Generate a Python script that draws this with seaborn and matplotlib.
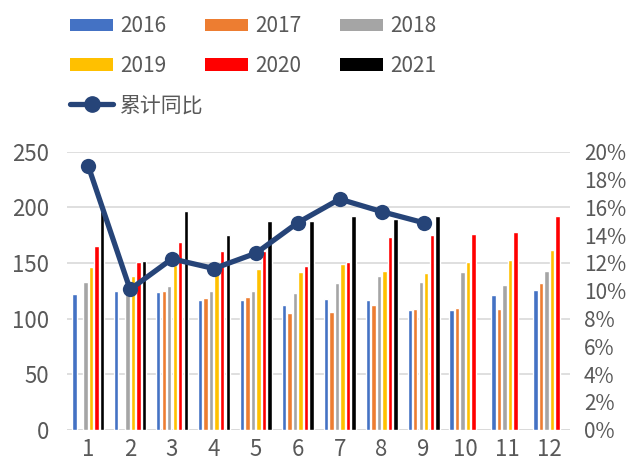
import numpy as np
import pandas as pd
import matplotlib
matplotlib.use("Agg")
import matplotlib.pyplot as plt
import seaborn as sns
from matplotlib.lines import Line2D
from matplotlib.patches import Patch
from matplotlib.ticker import FuncFormatter

# ---- data ----
months = [1, 2, 3, 4, 5, 6, 7, 8, 9, 10, 11, 12]
years = ["2016", "2017", "2018", "2019", "2020", "2021"]
v2016 = [122, 125, 123.5, 116.5, 116.5, 112.3, 118, 117, 107.8, 107.8, 121.4, 125.9]
v2017 = [np.nan, np.nan, 125, 118.4, 119, 105, 106, 112.3, 109, 109.6, 108.4, 131.6]
v2018 = [132.5, 130, 129.5, 124.4, 124.4, 122.6, 132, 138.5, 132.8, 141.5, 130.4, 142.8]
v2019 = [146, 138, 148, 141, 145, 141.5, 149, 142.5, 141, 151, 152.7, 162]
v2020 = [165.6, 151, 169, 160.5, 160.5, 147.6, 151, 173, 175.6, 176.2, 178.3, 191.9]
v2021 = [197, 152, 197, 175.3, 188, 188, 192, 190, 192, np.nan, np.nan, np.nan]
cum_yoy = [19.0, 10.1, 12.3, 11.6, 12.7, 14.9, 16.6, 15.7, 14.9]  # %
line_label = "累计同比"

colors = ["#4472C4", "#ED7D31", "#A5A5A5", "#FFC000", "#FF0000", "#000000"]
line_color = "#264478"
text_color = "#595959"
FS = 15

# long format for seaborn
series = [v2016, v2017, v2018, v2019, v2020, v2021]
df = pd.concat([pd.DataFrame({"month": months, "value": vals, "year": yr})
                for yr, vals in zip(years, series)], ignore_index=True)
df_line = pd.DataFrame({"pos": [m - 1 for m in months[:len(cum_yoy)]], "yoy": cum_yoy})

sns.set_theme(style="white")
plt.rcParams["font.family"] = ["Noto Sans CJK SC", "DejaVu Sans"]
plt.rcParams["font.size"] = FS

fig = plt.figure(figsize=(6.28, 4.63), dpi=100)
ax = fig.add_axes([0.107, 0.072, 0.801, 0.6])

sns.barplot(data=df, x="month", y="value", hue="year", hue_order=years,
            palette=colors, width=0.79, gap=0.2, saturation=1,
            dodge=True, ax=ax, legend=False, errorbar=None)

ax.set_ylim(0, 250)
ax.set_yticks(range(0, 251, 50))
ax.set_xlim(-0.5, 11.5)
ax.yaxis.grid(True, color="#D9D9D9", linewidth=1.2)
ax.set_axisbelow(True)
for s in ax.spines.values():
    s.set_visible(False)
ax.axhline(0, color="#D9D9D9", linewidth=1.2, zorder=0)
ax.set_xlabel("")
ax.set_ylabel("")
ax.tick_params(axis="y", length=0, pad=13, labelsize=FS + 1, colors=text_color)
ax.tick_params(axis="x", length=0, pad=6, labelsize=FS + 1, colors=text_color)

ax2 = ax.twinx()
sns.lineplot(data=df_line, x="pos", y="yoy", color=line_color, linewidth=3.8,
             marker="o", markersize=11, markeredgewidth=0, ax=ax2)
ax2.set_ylim(0, 20)
ax2.set_yticks(range(0, 21, 2))
ax2.yaxis.set_major_formatter(FuncFormatter(lambda v, p: f"{int(v)}%"))
ax2.set_xlim(-0.5, 11.5)
ax2.set_ylabel("")
ax2.set_xlabel("")
ax2.grid(False)
for s in ax2.spines.values():
    s.set_visible(False)
ax2.tick_params(axis="y", length=0, pad=10, labelsize=FS, colors=text_color)

# legend: year patches in a 3x2 grid, the line entry on its own row below
patches = [Patch(facecolor=c, edgecolor="none", label=y) for c, y in zip(colors, years)]
order = [0, 3, 1, 4, 2, 5]  # column-major fill -> row-major look
leg1 = fig.legend(handles=[patches[i] for i in order], loc="upper left",
                  bbox_to_anchor=(0.105, 0.976), ncol=3, frameon=False, fontsize=FS,
                  labelcolor=text_color, handlelength=2.07, handleheight=0.55,
                  handletextpad=0.34, columnspacing=1.85, labelspacing=0.85,
                  borderaxespad=0.0, borderpad=0.2)
line_h = Line2D([], [], color=line_color, linewidth=3.8, marker="o", markersize=11,
                label=line_label)
fig.legend(handles=[line_h], loc="upper left", bbox_to_anchor=(0.105, 0.805),
           frameon=False, fontsize=FS, labelcolor=text_color,
           handlelength=2.07, handletextpad=0.34, borderaxespad=0.0, borderpad=0.2)

fig.savefig("out.png", dpi=100)
